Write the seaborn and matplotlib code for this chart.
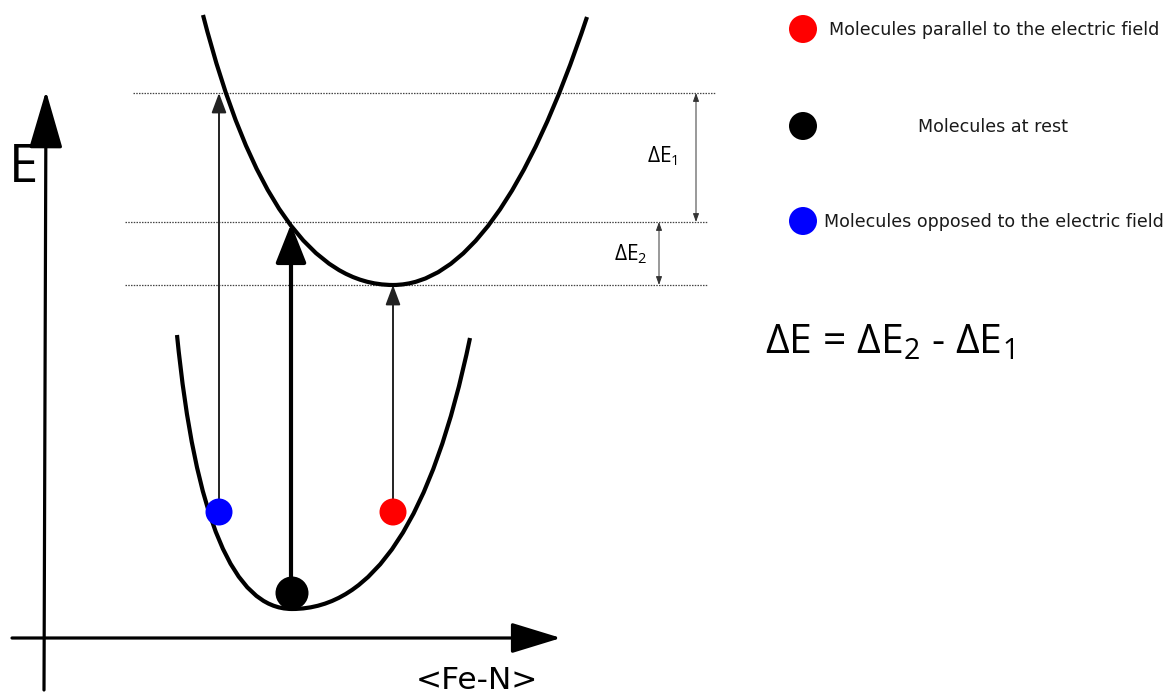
import matplotlib.pyplot as plt
import seaborn as sns
from matplotlib.path import Path
from matplotlib.patches import PathPatch, FancyArrowPatch, ArrowStyle

# --- wells, drawn as quadratic Bezier: top-left, control, vertex, control, top-right ---
ground_x = [177, 204, 292, 414, 470]
ground_y = [335, 609, 609, 609, 338]
excited_x = [203, 272, 393, 498, 587]
excited_y = [15, 285, 285, 285, 17]

# --- energy levels (dotted) ---
level_y = [93, 222, 285]
level_x0 = [133, 125, 125]
level_x1 = [715, 707, 707]

# --- molecules sitting in the ground well ---
mol_x = [219, 292, 393]
mol_y = [512, 593, 512]
mol_kind = ["opposed", "rest", "parallel"]
mol_diam = [27, 33, 27]

# --- vertical transitions ---
trans_x = [219, 291, 393]
trans_from = [505, 585, 505]
trans_to = [93, 224, 285]
trans_bold = [False, True, False]

# --- legend ---
legend_kind = ["parallel", "rest", "opposed"]
legend_text = ["Molecules parallel to the electric field",
               "Molecules at rest",
               "Molecules opposed to the electric field"]
legend_y = [29, 126, 221]
palette = {"parallel": "#ff0000", "rest": "#000000", "opposed": "#0000ff"}


def bezier(ax, xs, ys, lw=3.0):
    verts = list(zip(xs, ys))
    codes = [Path.MOVETO] + [Path.CURVE3] * (len(verts) - 1)
    ax.add_patch(PathPatch(Path(verts, codes), fill=False, lw=lw, ec="black",
                           capstyle="butt", zorder=2))


def arrow(ax, p0, p1, lw, hl, hw, style="-|>", color="black", z=3):
    st = ArrowStyle(style, head_length=hl, head_width=hw)
    ax.add_patch(FancyArrowPatch(p0, p1, arrowstyle=st, mutation_scale=1, lw=lw,
                                 color=color, shrinkA=0, shrinkB=0, zorder=z))


def draw_diagram():
    sns.set_theme(style="white")
    plt.rcParams["font.family"] = ["DejaVu Sans"]
    plt.rcParams["text.color"] = "black"
    plt.rcParams["mathtext.fontset"] = "custom"
    plt.rcParams["mathtext.rm"] = "Open Sans"
    plt.rcParams["mathtext.it"] = "Open Sans:italic"

    fig = plt.figure(figsize=(11.68, 6.94), dpi=100)
    ax = fig.add_axes([0, 0, 1, 1])
    ax.set_xlim(0, 1168)
    ax.set_ylim(694, 0)
    ax.axis("off")

    # axes of the diagram
    arrow(ax, (44, 690), (46, 91), lw=2.3, hl=36, hw=10.5)
    arrow(ax, (12, 638), (561, 638), lw=2.3, hl=31, hw=9.5)
    ax.text(24, 182, "E", fontsize=38, family="Open Sans", ha="center", va="baseline")
    ax.text(477, 689, "<Fe-N>", fontsize=22.5, ha="center", va="baseline")

    # wells
    bezier(ax, ground_x, ground_y)
    bezier(ax, excited_x, excited_y)

    # energy levels
    ax.hlines(level_y, level_x0, level_x1, colors="#444444", lw=0.9,
              linestyles=(0, (1.2, 1.0)), zorder=1)

    # transitions
    for x, y0, y1, bold in zip(trans_x, trans_from, trans_to, trans_bold):
        if bold:
            arrow(ax, (x, y0), (x, y1), lw=3.0, hl=24, hw=9.5)
        else:
            arrow(ax, (x, y0), (x, y1), lw=1.4, hl=12, hw=4.5, color="#222222")

    # energy gaps
    arrow(ax, (696, level_y[0]), (696, level_y[1]), lw=0.7, hl=5, hw=1.8,
          style="<|-|>", color="#333333")
    arrow(ax, (659, level_y[1]), (659, level_y[2]), lw=0.7, hl=5, hw=1.8,
          style="<|-|>", color="#333333")
    ax.text(647, 162, "ΔE$_1$", fontsize=15, family="Open Sans", va="baseline")
    ax.text(614, 260, "ΔE$_2$", fontsize=15, family="Open Sans", va="baseline")

    # molecules
    sns.scatterplot(x=mol_x, y=mol_y, hue=mol_kind, palette=palette,
                    s=[(d * 0.72) ** 2 for d in mol_diam], linewidth=0,
                    legend=False, ax=ax, zorder=5)

    # legend
    sns.scatterplot(x=[803] * 3, y=legend_y, hue=legend_kind, palette=palette,
                    s=(28 * 0.72) ** 2, linewidth=0, legend=False, ax=ax, zorder=5)
    ax.text(829, 35, legend_text[0], fontsize=12.6, va="baseline", color="#1a1a1a")
    ax.text(993, 132, legend_text[1], fontsize=12.6, va="baseline", ha="center",
            color="#1a1a1a")
    ax.text(824, 227, legend_text[2], fontsize=12.6, va="baseline", color="#1a1a1a")

    ax.text(765, 353, "ΔE = ΔE$_2$ - ΔE$_1$", fontsize=29.5, family="Open Sans",
            va="baseline")

    ax.set_xlim(0, 1168)
    ax.set_ylim(694, 0)
    fig.savefig("out.png", dpi=100)


if __name__ == "__main__":
    draw_diagram()
